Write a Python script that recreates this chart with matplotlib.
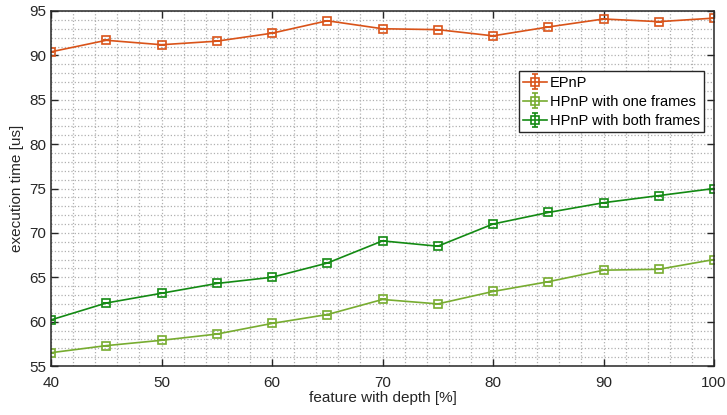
import matplotlib.pyplot as plt
from matplotlib.ticker import MultipleLocator

plt.rcParams['font.family'] = ['Liberation Sans', 'DejaVu Sans']

# Datos
depth = [40, 45, 50, 55, 60, 65, 70, 75, 80, 85, 90, 95, 100]
epnp = [90.4, 91.7, 91.2, 91.6, 92.5, 93.9, 93.0, 92.9, 92.2, 93.2, 94.1, 93.8, 94.2]
hpnp_one = [56.5, 57.3, 57.9, 58.6, 59.8, 60.8, 62.5, 62.0, 63.4, 64.5, 65.8, 65.9, 67.0]
hpnp_both = [60.2, 62.1, 63.2, 64.3, 65.0, 66.6, 69.1, 68.5, 71.0, 72.3, 73.4, 74.2, 75.0]
err = [0.0] * len(depth)

labels = ['EPnP', 'HPnP with one frames', 'HPnP with both frames']
colores = ['#D95319', '#77AC30', '#138A13']

fig = plt.figure(figsize=(7.27, 4.15), dpi=100)
ax = fig.add_axes([0.0702, 0.118, 0.912, 0.8555])

for serie, lab, col in zip([epnp, hpnp_one, hpnp_both], labels, colores):
    ax.errorbar(depth, serie, yerr=err, label=lab, color=col, linewidth=1.2,
                marker='s', markersize=5.5, markerfacecolor='none',
                markeredgewidth=1.2, capsize=2.5, elinewidth=1.2)

# Ejes
ax.set_xlim(40, 100)
ax.set_ylim(55, 95)
ax.xaxis.set_major_locator(MultipleLocator(10))
ax.xaxis.set_minor_locator(MultipleLocator(2))
ax.yaxis.set_major_locator(MultipleLocator(5))
ax.yaxis.set_minor_locator(MultipleLocator(1))
ax.grid(which='both', linestyle=':', color='#b0b0b0', linewidth=0.9)
ax.set_axisbelow(True)
ax.tick_params(which='major', direction='in', length=5, width=1.0, top=True, right=True,
               labelsize=11, colors='#262626', labelcolor='#262626')
ax.tick_params(axis='x', which='major', pad=7)
ax.tick_params(which='minor', length=0)
for s in ax.spines.values():
    s.set_color('#262626')
    s.set_linewidth(1.1)

ax.set_xlabel('feature with depth [%]', fontsize=11, color='#262626', labelpad=1)
ax.set_ylabel('execution time [us]', fontsize=11, color='#262626', labelpad=4)

leg = ax.legend(loc='upper right', bbox_to_anchor=(0.985, 0.83), fontsize=10.5,
                fancybox=False, framealpha=1, edgecolor='#262626',
                borderpad=0.3, labelspacing=0.35, handlelength=1.6,
                handletextpad=0.2, borderaxespad=0)
leg.get_frame().set_linewidth(1.0)

plt.savefig('out.png', dpi=100)
